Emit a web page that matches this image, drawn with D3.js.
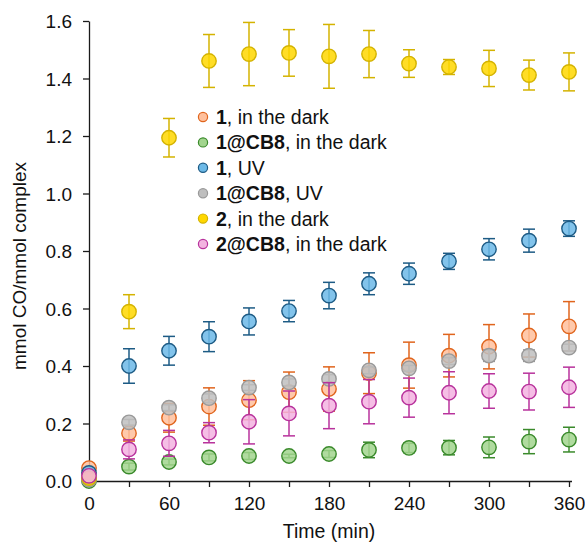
<!DOCTYPE html>
<html>
<head>
<meta charset="utf-8">
<script src="https://cdn.jsdelivr.net/npm/d3@7"></script>
<style>
  body { margin: 0; background: #fff; }
  svg text { font-family: "Liberation Sans", Arial, sans-serif; fill: #111; }
</style>
</head>
<body>
<div id="chart"></div>
<script>
'use strict';

// Sampling times (min)
const times = [0, 30, 60, 90, 120, 150, 180, 210, 240, 270, 300, 330, 360];

// Mean values, mmol CO / mmol complex
const darkMean   = [0.045, 0.166, 0.220, 0.259, 0.281, 0.309, 0.320, 0.375, 0.403, 0.436, 0.467, 0.506, 0.538];
const cbDarkMean = [0.000, 0.050, 0.066, 0.082, 0.087, 0.087, 0.094, 0.108, 0.115, 0.116, 0.117, 0.137, 0.144];
const uvMean     = [0.028, 0.400, 0.453, 0.502, 0.555, 0.591, 0.645, 0.686, 0.721, 0.764, 0.806, 0.836, 0.878];
const cbUvMean   = [0.005, 0.204, 0.255, 0.288, 0.325, 0.343, 0.355, 0.385, 0.392, 0.417, 0.436, 0.436, 0.464];
const c2DarkMean = [0.010, 0.589, 1.194, 1.461, 1.485, 1.489, 1.477, 1.485, 1.452, 1.440, 1.435, 1.412, 1.423];
const c2CbMean   = [0.018, 0.110, 0.131, 0.168, 0.206, 0.235, 0.262, 0.276, 0.290, 0.307, 0.313, 0.311, 0.326];

// Standard deviations
const darkErr   = [0, 0.027, 0.050, 0.065, 0.068, 0.070, 0.077, 0.071, 0.080, 0.074, 0.077, 0.075, 0.086];
const cbDarkErr = [0, 0.012, 0.010, 0.012, 0.012, 0.006, 0.012, 0.027, 0.016, 0.025, 0.036, 0.042, 0.043];
const uvErr     = [0, 0.060, 0.050, 0.052, 0.047, 0.037, 0.046, 0.038, 0.037, 0.028, 0.037, 0.040, 0.027];
const cbUvErr   = [0, 0.010, 0.010, 0.015, 0.010, 0.012, 0.015, 0.012, 0.010, 0.012, 0.020, 0.020, 0.012];
const c2DarkErr = [0, 0.059, 0.067, 0.092, 0.110, 0.081, 0.111, 0.082, 0.048, 0.026, 0.063, 0.052, 0.066];
const c2CbErr   = [0, 0.033, 0.045, 0.035, 0.077, 0.078, 0.080, 0.077, 0.068, 0.073, 0.060, 0.064, 0.070];

const xTicks = [0, 30, 60, 90, 120, 150, 180, 210, 240, 270, 300, 330, 360];
const yTicks = [0, 0.2, 0.4, 0.6, 0.8, 1.0, 1.2, 1.4, 1.6];

// Series: bold label part, rest of label, colours
const series = [
  {bold: "1",     rest: ", in the dark", mean: darkMean,   err: darkErr,   fill: "#ffc09c", stroke: "#e0651d"},
  {bold: "1@CB8", rest: ", in the dark", mean: cbDarkMean, err: cbDarkErr, fill: "#a2d58e", stroke: "#3a8a2b"},
  {bold: "1",     rest: ", UV",          mean: uvMean,     err: uvErr,     fill: "#6cb9e7", stroke: "#1d5b85"},
  {bold: "1@CB8", rest: ", UV",          mean: cbUvMean,   err: cbUvErr,   fill: "#bfbfbf", stroke: "#999999"},
  {bold: "2",     rest: ", in the dark", mean: c2DarkMean, err: c2DarkErr, fill: "#ffd700", stroke: "#d4b300"},
  {bold: "2@CB8", rest: ", in the dark", mean: c2CbMean,   err: c2CbErr,   fill: "#f3b3e0", stroke: "#b8329c"}
];

const width = 585;
const height = 544;
const fontSize = 19;

const svg = d3.select("#chart").append("svg")
    .attr("width", width)
    .attr("height", height);

const x = d3.scaleLinear().domain([0, 360]).range([89, 569]);
const y = d3.scaleLinear().domain([0, 1.6]).range([481, 21]);

// Axes
const xAxis = svg.append("g")
    .attr("transform", `translate(0,${y(0)})`)
    .call(d3.axisBottom(x).tickValues(xTicks).tickSize(6).tickSizeOuter(0)
      .tickFormat(d => d % 60 === 0 ? d : ""));
xAxis.select(".domain").attr("d", `M${x(0)},0.5H572`);

const yAxis = svg.append("g")
    .attr("transform", `translate(${x(0)},0)`)
    .call(d3.axisLeft(y).tickValues(yTicks).tickSize(6).tickSizeOuter(0)
      .tickFormat(d3.format(".1f")));

svg.selectAll(".domain, .tick line").attr("stroke", "#1a1a1a").attr("stroke-width", 1.3);
svg.selectAll(".tick text").attr("font-size", fontSize).attr("font-family", null).attr("fill", "#111");
xAxis.selectAll(".tick text").attr("dy", "1.05em");
yAxis.selectAll(".tick text").attr("x", -17).attr("dy", "0.36em");

// Axis titles
svg.append("text")
    .attr("x", (x(0) + x(360)) / 2)
    .attr("y", 538)
    .attr("text-anchor", "middle")
    .attr("font-size", fontSize + 0.5)
    .text("Time (min)");

svg.append("text")
    .attr("transform", `translate(26,${(y(0) + y(1.6)) / 2 + 15}) rotate(-90)`)
    .attr("text-anchor", "middle")
    .attr("font-size", fontSize)
    .text("mmol CO/mmol complex");

// Error bars and markers
const capW = 6;
series.forEach(s => {
  const pts = times.map((t, i) => ({t: t, v: s.mean[i], e: s.err[i]}));
  const g = svg.append("g");

  const bars = g.selectAll(".err")
    .data(pts.filter(d => d.e > 0))
    .join("g")
      .attr("stroke", s.stroke)
      .attr("stroke-width", 1.5);
  bars.append("line")
      .attr("x1", d => x(d.t)).attr("x2", d => x(d.t))
      .attr("y1", d => y(d.v + d.e)).attr("y2", d => y(d.v - d.e));
  bars.append("line")
      .attr("x1", d => x(d.t) - capW).attr("x2", d => x(d.t) + capW)
      .attr("y1", d => y(d.v + d.e)).attr("y2", d => y(d.v + d.e));
  bars.append("line")
      .attr("x1", d => x(d.t) - capW).attr("x2", d => x(d.t) + capW)
      .attr("y1", d => y(d.v - d.e)).attr("y2", d => y(d.v - d.e));

  g.selectAll("circle")
    .data(pts)
    .join("circle")
      .attr("cx", d => x(d.t))
      .attr("cy", d => y(d.v))
      .attr("r", 7.2)
      .attr("fill", s.fill)
      .attr("fill-opacity", 0.85)
      .attr("stroke", s.stroke)
      .attr("stroke-width", 1.4);
});

// Legend
const legend = svg.append("g").attr("transform", "translate(203,117)");
const rows = legend.selectAll("g")
  .data(series)
  .join("g")
    .attr("transform", (d, i) => `translate(0,${i * 25.4})`);
rows.append("circle")
    .attr("r", 4.6)
    .attr("fill", d => d.fill)
    .attr("stroke", d => d.stroke)
    .attr("stroke-width", 1.2);
const label = rows.append("text")
    .attr("x", 13)
    .attr("y", 7)
    .attr("font-size", fontSize + 0.5);
label.append("tspan").attr("font-weight", "bold").text(d => d.bold);
label.append("tspan").text(d => d.rest);
</script>
</body>
</html>
